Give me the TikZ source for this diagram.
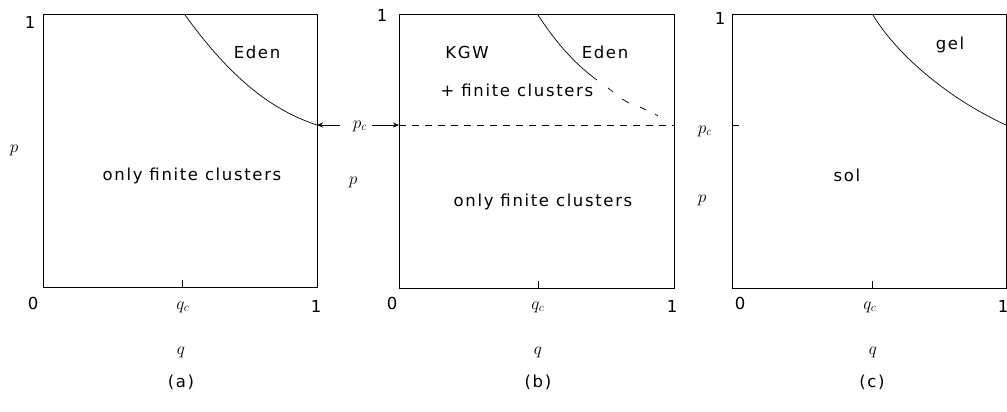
\documentclass[tikz,border=0pt]{standalone}
\usepackage{fontspec}
\setmainfont{DejaVu Sans}[LetterSpace=10]
\usetikzlibrary{arrows.meta}
\begin{document}
\begin{tikzpicture}[x=1pt,y=-1pt,
  box/.style={line width=1pt},
  curve/.style={line width=0.7pt},
  lbl/.style={inner sep=0pt,font=\fontsize{16.5}{19}\selectfont},
  mlbl/.style={inner sep=0pt,font=\fontsize{17}{19}\selectfont},
  tick/.style={line width=0.7pt},
  arr/.style={line width=0.7pt,-{Stealth[length=6pt,width=5pt]}},
  dashln/.style={line width=0.9pt,dash pattern=on 7pt off 6pt}]
\useasboundingbox (0,0) rectangle (1007,412);
% ---------- panel (a)
\draw[box] (43,15) rectangle (317,287);
\draw[tick] (182,287) -- (182,280);
\draw[curve] (185,15) .. controls (225,70) and (265,108) .. (317,125);
\coordinate (aend) at (317,125);
\coordinate (atail) at (340,125);
\draw[arr] (atail) -- (aend);
\node[lbl] (a1) at (30,22) {1};
\node[lbl] (a0) at (33,303) {0};
\node[mlbl] (aqc) at (183,307) {$q_c$};
\node[lbl] (aone) at (316,306) {1};
\node[mlbl] (aq) at (181,352) {$q$};
\node[mlbl] (ap) at (14,150) {$p$};
\node[lbl] (aeden) at (257,52) {Eden};
\node[lbl] (afin) at (192,176) {only finite clusters};
\node[lbl] (acap) at (181,382) {(a)};
% ---------- panel (b)
\draw[box] (399,15) rectangle (674,288);
\draw[tick] (538,288) -- (538,281);
\draw[curve] (538,15) .. controls (553,38) and (572,62) .. (597,80);
\draw[curve] (608,88) -- (613,92);
\draw[curve] (622,99) -- (629,103);
\draw[curve] (640,107) -- (646,110);
\draw[curve] (655,114) -- (658,116);
\coordinate (bl) at (399,125);
\coordinate (br) at (674,125);
\draw[dashln] (bl) -- (br);
\node[mlbl] (bpc) at (360,126) {$p_c$};
\draw[arr] (bpc.east) ++(5,-1) coordinate (btail) (btail) -- (bl);
\node[lbl] (b1) at (382,15) {1};
\node[lbl] (b0) at (392,303) {0};
\node[mlbl] (bqc) at (538,307) {$q_c$};
\node[lbl] (bone) at (672,306) {1};
\node[mlbl] (bq) at (538,352) {$q$};
\node[mlbl] (bp) at (353,182) {$p$};
\node[lbl] (bkgw) at (467,52) {KGW};
\node[lbl] (beden) at (605,52) {Eden};
\node[lbl] (bplus) at (517,90) {+ finite clusters};
\node[lbl] (bfin) at (543,202) {only finite clusters};
\node[lbl] (bcap) at (538,382) {(b)};
% ---------- panel (c)
\draw[box] (732,15) rectangle (1006,288);
\draw[tick] (872,288) -- (872,281);
\draw[tick] (732,125) -- (739,125);
\draw[curve] (873,15) .. controls (895,52) and (945,97) .. (1006,125);
\node[lbl] (c1) at (720,18) {1};
\node[lbl] (c0) at (740,303) {0};
\node[mlbl] (cqc) at (870,307) {$q_c$};
\node[lbl] (cone) at (1003,306) {1};
\node[mlbl] (cq) at (873,352) {$q$};
\node[mlbl] (cpc) at (705,131) {$p_c$};
\node[mlbl] (cp) at (702,200) {$p$};
\node[lbl] (cgel) at (950,45) {gel};
\node[lbl] (csol) at (847,175) {sol};
\node[lbl] (ccap) at (872,382) {(c)};
\end{tikzpicture}
\end{document}
